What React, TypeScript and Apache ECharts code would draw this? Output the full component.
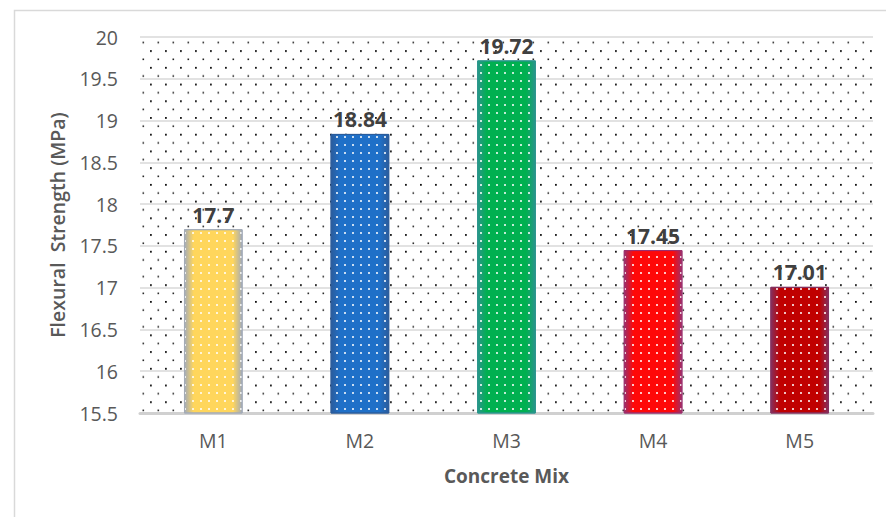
import React, { useEffect, useRef } from "react";
import * as echarts from "echarts";

// Mix designations and measured flexural strength (MPa)
const mixes = ["M1", "M2", "M3", "M4", "M5"];
const flexuralStrength = [17.7, 18.84, 19.72, 17.45, 17.01];

// Value axis range and step
const axisMin = 15.5;
const axisMax = 20;
const axisStep = 0.5;

// Bar face colours and their darker edge tones
const faceColors = ["#FFD65C", "#1F70C8", "#00B050", "#FF0808", "#C00000"];
const edgeColors = ["#A3ABB8", "#2B5C9C", "#2A958C", "#9A2F6C", "#84305F"];

const FONT = "'Open Sans', 'Noto Sans', sans-serif";

// Staggered dot tile used as the plot-area fill
function dottedBackground() {
  const w = 15;
  const h = 16.72;
  const svg =
    `<svg xmlns="http://www.w3.org/2000/svg" width="${w}" height="${h}">` +
    `<rect x="0" y="0" width="1.8" height="1.8" fill="#111"/>` +
    `<rect x="7.5" y="8.36" width="1.6" height="1.6" fill="#222"/>` +
    `</svg>`;
  return {
    image: "data:image/svg+xml;utf8," + encodeURIComponent(svg),
    repeat: "repeat",
    imageWidth: w,
    imageHeight: h,
    x: 3,
    y: 4,
  };
}

export default function App() {
  const ref = useRef<HTMLDivElement>(null);

  useEffect(() => {
    if (!ref.current) return;
    const chart = echarts.init(ref.current, null, { renderer: "svg" });

    const barData = flexuralStrength.map((v, i) => ({
      value: v,
      itemStyle: {
        color: new echarts.graphic.LinearGradient(0, 0, 1, 0, [
          { offset: 0, color: edgeColors[i] },
          { offset: 0.16, color: faceColors[i] },
          { offset: 0.84, color: faceColors[i] },
          { offset: 1, color: edgeColors[i] },
        ]),
        borderColor: edgeColors[i],
        borderWidth: 1,
        decal: {
          symbol: "rect",
          symbolSize: 0.9,
          dashArrayX: [2, 6],
          dashArrayY: [2, 6],
          color: "rgba(255,255,255,0.85)",
        },
      },
    }));

    chart.setOption({
      animation: false,
      backgroundColor: "#ffffff",
      graphic: [
        {
          type: "rect",
          left: 12,
          top: 8,
          shape: { width: 900, height: 600 },
          style: { fill: "none", stroke: "#d9d9d9", lineWidth: 1.5 },
          silent: true,
          z: -10,
        },
      ],
      grid: {
        left: 140,
        right: 13,
        top: 37,
        bottom: 104,
        show: true,
        borderWidth: 0,
        backgroundColor: dottedBackground(),
      },
      xAxis: {
        type: "category",
        data: mixes,
        name: "Concrete Mix",
        nameLocation: "middle",
        nameGap: 53,
        nameTextStyle: {
          fontFamily: FONT,
          fontSize: 19,
          fontWeight: "bold",
          color: "#595959",
        },
        axisLine: { show: true, lineStyle: { color: "#d0d0d0", width: 3 } },
        axisTick: { show: false },
        axisLabel: {
          fontFamily: FONT,
          fontSize: 19.5,
          color: "#595959",
          margin: 17,
        },
      },
      yAxis: {
        type: "value",
        min: axisMin,
        max: axisMax,
        interval: axisStep,
        name: "Flexural  Strength (MPa)",
        nameLocation: "middle",
        nameGap: 73,
        nameTextStyle: {
          fontFamily: FONT,
          fontSize: 19.5,
          fontWeight: 600,
          color: "#595959",
        },
        axisLine: { show: false },
        axisTick: { show: false },
        splitLine: { lineStyle: { color: "#d9d9d9", width: 1.5 } },
        axisLabel: {
          fontFamily: FONT,
          fontSize: 19.5,
          color: "#595959",
          margin: 22,
        },
      },
      series: [
        {
          type: "bar",
          data: barData,
          barWidth: "40%",
          label: {
            show: true,
            position: "top",
            distance: 4,
            fontFamily: FONT,
            fontSize: 21,
            fontWeight: "bold",
            color: "#404040",
            formatter: "{c}",
          },
        },
      ],
    });

    return () => chart.dispose();
  }, []);

  return (
    <div
      ref={ref}
      style={{
        position: "fixed",
        left: 0,
        top: 0,
        width: 886,
        height: 517,
        background: "#fff",
      }}
    />
  );
}
